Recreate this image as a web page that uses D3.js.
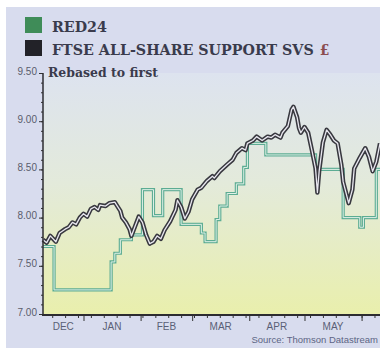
<!DOCTYPE html>
<html>
<head>
<meta charset="utf-8">
<script src="https://cdn.jsdelivr.net/npm/d3@7/dist/d3.min.js"></script>
<style>
  html, body { margin: 0; padding: 0; background: #fff; }
  svg { display: block; }
</style>
</head>
<body>
<div id="chart"></div>
<script>
'use strict';

var ftseDates = [
  '2013-12-10', '2013-12-12', '2013-12-14', '2013-12-17', '2013-12-19', '2013-12-22', '2013-12-24',
  '2013-12-26', '2013-12-28', '2013-12-30', '2014-01-01', '2014-01-03', '2014-01-05', '2014-01-07',
  '2014-01-09', '2014-01-10', '2014-01-13', '2014-01-15', '2014-01-18', '2014-01-19', '2014-01-21',
  '2014-01-22', '2014-01-24', '2014-01-26', '2014-01-27', '2014-01-29', '2014-01-31', '2014-02-02',
  '2014-02-04', '2014-02-06', '2014-02-08', '2014-02-10', '2014-02-12', '2014-02-14', '2014-02-17',
  '2014-02-20', '2014-02-21', '2014-02-23', '2014-02-25', '2014-02-27', '2014-03-01', '2014-03-04',
  '2014-03-06', '2014-03-09', '2014-03-12', '2014-03-13', '2014-03-16', '2014-03-20', '2014-03-23',
  '2014-03-25', '2014-03-28', '2014-03-30', '2014-03-31', '2014-04-03', '2014-04-05', '2014-04-08',
  '2014-04-11', '2014-04-13', '2014-04-15', '2014-04-18', '2014-04-19', '2014-04-22', '2014-04-24',
  '2014-04-25', '2014-04-27', '2014-04-28', '2014-04-29', '2014-05-01', '2014-05-03', '2014-05-05',
  '2014-05-07', '2014-05-08', '2014-05-09', '2014-05-11', '2014-05-13', '2014-05-15', '2014-05-17',
  '2014-05-19', '2014-05-21', '2014-05-22', '2014-05-25', '2014-05-27', '2014-05-28', '2014-05-31',
  '2014-06-03', '2014-06-05', '2014-06-07', '2014-06-09', '2014-06-11'
];
var ftseValues = [
  7.77, 7.74, 7.81, 7.75, 7.84, 7.88, 7.90,
  7.95, 7.93, 8.00, 8.04, 8.01, 8.09, 8.11,
  8.08, 8.13, 8.12, 8.15, 8.16, 8.13, 8.07,
  8.00, 7.95, 7.88, 7.81, 7.91, 8.01, 7.95,
  7.82, 7.73, 7.75, 7.81, 7.78, 7.87, 7.96,
  8.08, 8.18, 8.11, 7.99, 8.06, 8.19, 8.29,
  8.31, 8.38, 8.43, 8.41, 8.48, 8.55, 8.60,
  8.67, 8.72, 8.70, 8.77, 8.80, 8.84, 8.80,
  8.84, 8.83, 8.86, 8.83, 8.88, 8.95, 9.12,
  9.15, 9.04, 8.93, 8.88, 8.94, 8.88, 8.70,
  8.51, 8.26, 8.49, 8.78, 8.91, 8.86, 8.80,
  8.77, 8.55, 8.37, 8.15, 8.29, 8.51, 8.62,
  8.72, 8.63, 8.48, 8.58, 8.77
];

var red24Dates = [
  '2013-12-10', '2013-12-16', '2014-01-16', '2014-01-18', '2014-01-21', '2014-01-27', '2014-02-02',
  '2014-02-08', '2014-02-13', '2014-02-23', '2014-03-06', '2014-03-08', '2014-03-14', '2014-03-16',
  '2014-03-20', '2014-03-25', '2014-03-29', '2014-03-31', '2014-04-10', '2014-05-07', '2014-05-22',
  '2014-05-31', '2014-06-02', '2014-06-09', '2014-06-11'
];
var red24Values = [
  7.70, 7.25, 7.54, 7.63, 7.77, 7.82, 8.29,
  8.02, 8.29, 7.93, 7.84, 7.75, 7.98, 8.12,
  8.25, 8.35, 8.52, 8.77, 8.65, 8.50, 8.00,
  7.90, 8.00, 8.50, 8.50
];

var yTicks = [7.00, 7.50, 8.00, 8.50, 9.00, 9.50];
var monthLabels = ['DEC', 'JAN', 'FEB', 'MAR', 'APR', 'MAY'];
var legendLabels = ['RED24', 'FTSE ALL-SHARE SUPPORT SVS'];

var width = 380;
var height = 348;
var plot = {left: 43, right: 380, top: 73, bottom: 314, axisY: 315};

var parse = d3.timeParse('%Y-%m-%d');

var svg = d3.select('#chart').append('svg')
    .attr('width', width)
    .attr('height', height);

var defs = svg.append('defs');
var grad = defs.append('linearGradient')
    .attr('id', 'plotbg')
    .attr('x1', 0).attr('y1', 0).attr('x2', 0).attr('y2', 1);
grad.append('stop').attr('offset', '0%').attr('stop-color', '#dde3ef');
grad.append('stop').attr('offset', '45%').attr('stop-color', '#e3eadb');
grad.append('stop').attr('offset', '100%').attr('stop-color', '#e9efac');

// page background
svg.append('rect')
    .attr('x', 6).attr('y', 7)
    .attr('width', width - 6).attr('height', height - 7)
    .attr('fill', '#d8dcee');

svg.append('rect')
    .attr('x', plot.left).attr('y', plot.top)
    .attr('width', plot.right - plot.left).attr('height', plot.axisY - plot.top)
    .attr('fill', 'url(#plotbg)');

var x = d3.scaleTime()
    .domain([parse('2013-12-10'), parse('2014-06-11')])
    .range([plot.left, plot.right]);

var y = d3.scaleLinear()
    .domain([7, 9.5])
    .range([plot.bottom, plot.top]);

// legend: fit each label to its width in the reference by font size
var legendColors = ['#3f8c58', '#222228'];
var legendWidths = [55, 262];
var legend = svg.append('g');
var lastEnd = 0;
legendLabels.forEach(function(label, i) {
    legend.append('rect')
        .attr('x', 25).attr('y', 17 + i * 23)
        .attr('width', 17).attr('height', 16)
        .attr('fill', legendColors[i]);
    var t = legend.append('text')
        .attr('x', 52).attr('y', 32 + i * 23)
        .attr('font-family', 'DejaVu Serif')
        .attr('font-weight', 'bold')
        .attr('font-size', 15)
        .attr('fill', '#3a3b4c')
        .text(label);
    var w = t.node().getComputedTextLength();
    t.attr('font-size', Math.min(16, 15 * legendWidths[i] / w));
    lastEnd = 52 + t.node().getComputedTextLength();
});
legend.append('text')
    .attr('x', lastEnd + 6).attr('y', 55)
    .attr('font-family', 'DejaVu Serif')
    .attr('font-weight', 'bold')
    .attr('font-size', 14)
    .attr('fill', '#8b4d50')
    .text('£');

var sub = svg.append('text')
    .attr('x', 48).attr('y', 77)
    .attr('font-family', 'DejaVu Serif')
    .attr('font-weight', 'bold')
    .attr('font-size', 12.5)
    .attr('fill', '#3a3b4c')
    .text('Rebased to first');
sub.attr('font-size', 12.5 * 110 / sub.node().getComputedTextLength());

// lines
var line = d3.line()
    .x(function(d) { return x(d.date); })
    .y(function(d) { return y(d.value); });

var stepLine = d3.line()
    .curve(d3.curveStepAfter)
    .x(function(d) { return x(d.date); })
    .y(function(d) { return y(d.value); });

var red24 = red24Dates.map(function(d, i) { return {date: parse(d), value: red24Values[i]}; });
var ftse = ftseDates.map(function(d, i) { return {date: parse(d), value: ftseValues[i]}; });

svg.append('path').datum(red24)
    .attr('d', stepLine)
    .attr('fill', 'none')
    .attr('stroke', '#5cac93')
    .attr('stroke-width', 3.2);
svg.append('path').datum(red24)
    .attr('d', stepLine)
    .attr('fill', 'none')
    .attr('stroke', '#dff0e6')
    .attr('stroke-width', 1);

svg.append('path').datum(ftse)
    .attr('d', line)
    .attr('fill', 'none')
    .attr('stroke', '#38383f')
    .attr('stroke-width', 4.4)
    .attr('stroke-linejoin', 'round');
svg.append('path').datum(ftse)
    .attr('d', line)
    .attr('fill', 'none')
    .attr('stroke', '#e9e8f0')
    .attr('stroke-width', 1.3)
    .attr('stroke-linejoin', 'round');

// y axis
var yMinor = d3.range(70, 96).map(function(v) { return v / 10; });
var yAxisG = svg.append('g')
    .attr('transform', 'translate(' + plot.left + ',0)');
yAxisG.append('g')
    .call(d3.axisLeft(y).tickValues(yMinor).tickSize(2).tickSizeOuter(0).tickFormat(''))
    .call(function(g) { g.select('.domain').remove(); });
yAxisG.append('g')
    .call(d3.axisLeft(y).tickValues(yTicks).tickSize(4).tickSizeOuter(0).tickFormat(d3.format('.2f')))
    .call(function(g) {
        g.select('.domain').remove();
        g.selectAll('text')
            .attr('x', -6)
            .attr('dy', '0.1em')
            .attr('font-family', 'Liberation Sans')
            .attr('font-size', 10)
            .attr('fill', '#5a5d6c');
    });
yAxisG.selectAll('line').attr('stroke', '#333');
yAxisG.append('line')
    .attr('x1', 0).attr('x2', 0)
    .attr('y1', plot.top).attr('y2', plot.axisY)
    .attr('stroke', '#2c2c30')
    .attr('stroke-width', 1.5);

// x axis
var xAxisG = svg.append('g')
    .attr('transform', 'translate(0,' + plot.axisY + ')');
xAxisG.append('g')
    .call(d3.axisBottom(x).ticks(d3.timeWeek.every(1)).tickSize(3).tickSizeOuter(0).tickFormat(''))
    .call(function(g) { g.select('.domain').remove(); });
xAxisG.append('g')
    .call(d3.axisBottom(x).ticks(d3.timeMonth.every(1)).tickSize(6).tickSizeOuter(0).tickFormat(''))
    .call(function(g) { g.select('.domain').remove(); });
xAxisG.selectAll('line').attr('stroke', '#333');
xAxisG.append('line')
    .attr('x1', plot.left - 1).attr('x2', plot.right)
    .attr('y1', 0).attr('y2', 0)
    .attr('stroke', '#2c2c30')
    .attr('stroke-width', 2);

var domain = x.domain();
var months = d3.timeMonth.range(d3.timeMonth.floor(domain[0]), domain[1]);
xAxisG.selectAll('text.month')
    .data(months.slice(0, monthLabels.length))
    .enter().append('text')
    .attr('class', 'month')
    .attr('x', function(d) {
        var a = d < domain[0] ? domain[0] : d;
        var b = d3.timeMonth.offset(d, 1);
        if (b > domain[1]) { b = domain[1]; }
        return (x(a) + x(b)) / 2;
    })
    .attr('y', 15)
    .attr('text-anchor', 'middle')
    .attr('font-family', 'Liberation Sans')
    .attr('font-size', 10)
    .attr('fill', '#5a5f76')
    .text(function(d, i) { return monthLabels[i]; });

svg.append('text')
    .attr('x', 378).attr('y', 343)
    .attr('text-anchor', 'end')
    .attr('font-family', 'Liberation Sans')
    .attr('font-size', 9.5)
    .attr('fill', '#5d6585')
    .text('Source: Thomson Datastream');
</script>
</body>
</html>
